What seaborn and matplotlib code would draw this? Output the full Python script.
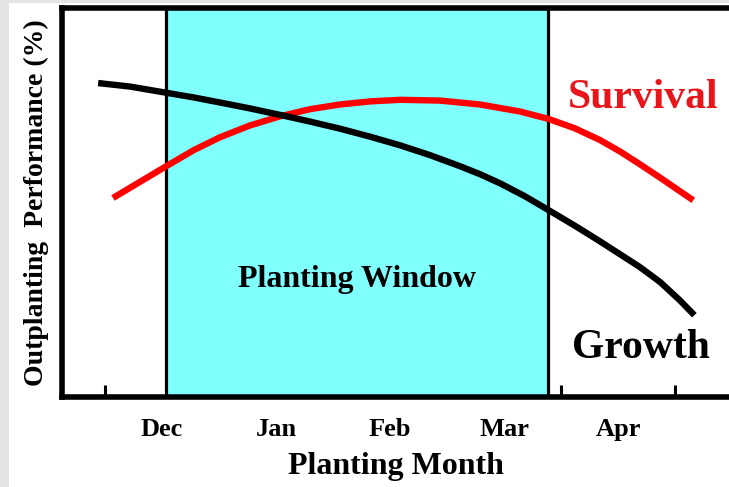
import matplotlib
matplotlib.use("Agg")
import matplotlib.pyplot as plt
import seaborn as sns
import pandas as pd
from matplotlib.patches import Rectangle

# ---- data (x in month-tick units, y in % of axis height) ----
month_labels = ["Dec", "Jan", "Feb", "Mar", "Apr"]
month_label_pos = [0.5, 1.5, 2.5, 3.5, 4.5]
tick_pos = [0, 1, 2, 3, 4, 5]

growth_x = [-0.06, 0.22, 0.54, 0.78, 1.01, 1.27, 1.54, 1.80, 2.06, 2.33, 2.59, 2.85,
            3.11, 3.29, 3.47, 3.68, 3.89, 4.12, 4.34, 4.69, 4.87, 5.04, 5.17]
growth_y = [80.6, 79.7, 78.1, 76.9, 75.6, 74.1, 72.4, 70.7, 68.9, 66.8, 64.6, 62.1,
            59.3, 57.2, 54.8, 51.6, 48.0, 44.0, 40.0, 33.4, 29.5, 24.9, 21.0]

survival_x = [0.07, 0.31, 0.54, 0.78, 1.01, 1.27, 1.54, 1.80, 2.06, 2.33, 2.59, 2.94,
              3.29, 3.64, 3.89, 4.12, 4.34, 4.52, 4.69, 4.87, 5.04, 5.16]
survival_y = [51.1, 55.3, 59.3, 63.4, 66.7, 69.7, 72.1, 73.9, 75.1, 75.9, 76.3, 76.1,
              75.1, 73.3, 71.4, 69.0, 66.0, 63.0, 59.8, 56.3, 52.9, 50.5]

window_start, window_end = 0.535, 3.886

growth_df = pd.DataFrame({"x": growth_x, "y": growth_y})
survival_df = pd.DataFrame({"x": survival_x, "y": survival_y})

sns.set_theme(style="white")
plt.rcParams["font.family"] = ["Liberation Serif", "DejaVu Serif"]
plt.rcParams["font.weight"] = "bold"
plt.rcParams["text.color"] = "black"
plt.rcParams["axes.labelcolor"] = "black"
plt.rcParams["xtick.color"] = "black"
plt.rcParams["ytick.color"] = "black"

fig = plt.figure(figsize=(7.29, 4.87), dpi=100, facecolor="white")
fig.patches.append(Rectangle((0, 0), 9 / 729, 1, transform=fig.transFigure,
                             facecolor="#e3e3e3", edgecolor="none", zorder=-10))
fig.patches.append(Rectangle((0, 1 - 3 / 487), 1, 3 / 487, transform=fig.transFigure,
                             facecolor="#e3e3e3", edgecolor="none", zorder=-10))

ax = fig.add_axes([62 / 729, 1 - 397 / 487, 1 - 62 / 729, (397 - 7.5) / 487])
ax.set_facecolor("white")

ax.axvspan(window_start, window_end, color="#80ffff", zorder=1, lw=0)
ax.axvline(window_start, color="black", lw=2.3, zorder=2)
ax.axvline(window_end, color="black", lw=2.3, zorder=2)

sns.lineplot(data=survival_df, x="x", y="y", ax=ax, color="#ff0000", lw=4.6,
             zorder=3, solid_capstyle="butt", solid_joinstyle="round",
             estimator=None, sort=False)
sns.lineplot(data=growth_df, x="x", y="y", ax=ax, color="black", lw=4.6,
             zorder=4, solid_capstyle="butt", solid_joinstyle="round",
             estimator=None, sort=False)

ax.set_xlim((62 - 105) / 114, (729 - 105) / 114)
ax.set_ylim(0, 100)

for side in ["left", "bottom", "top"]:
    ax.spines[side].set_visible(True)
    ax.spines[side].set_color("black")
    ax.spines[side].set_linewidth(4)
ax.spines["right"].set_visible(False)

ax.set_xticks(tick_pos)
ax.set_xticklabels([])
ax.set_xticks(month_label_pos, minor=True)
ax.set_xticklabels(month_labels, minor=True, fontsize=19, fontweight="bold", color="black")
ax.tick_params(axis="x", which="major", direction="in", length=9, width=2.2,
               color="black", bottom=True)
ax.tick_params(axis="x", which="minor", length=0, pad=15)
ax.set_yticks([])

ax.set_xlabel("Planting Month", fontsize=23, fontweight="bold", labelpad=8, color="black")
ax.set_ylabel("Outplanting  Performance (%)", fontsize=20, fontweight="bold",
              labelpad=9, color="black")

ax.text((357 - 105) / 114, (397 - 279) / 3.895, "Planting Window", fontsize=23,
        fontweight="bold", ha="center", va="center", zorder=5, color="black")
ax.text((643 - 105) / 114, (397 - 98) / 3.895, "Survival", fontsize=30,
        fontweight="bold", color="#e8151b", ha="center", va="center", zorder=5)
ax.text((641 - 105) / 114, (397 - 348) / 3.895, "Growth", fontsize=30,
        fontweight="bold", color="black", ha="center", va="center", zorder=5)

fig.savefig("out.png", dpi=100, facecolor=fig.get_facecolor())
